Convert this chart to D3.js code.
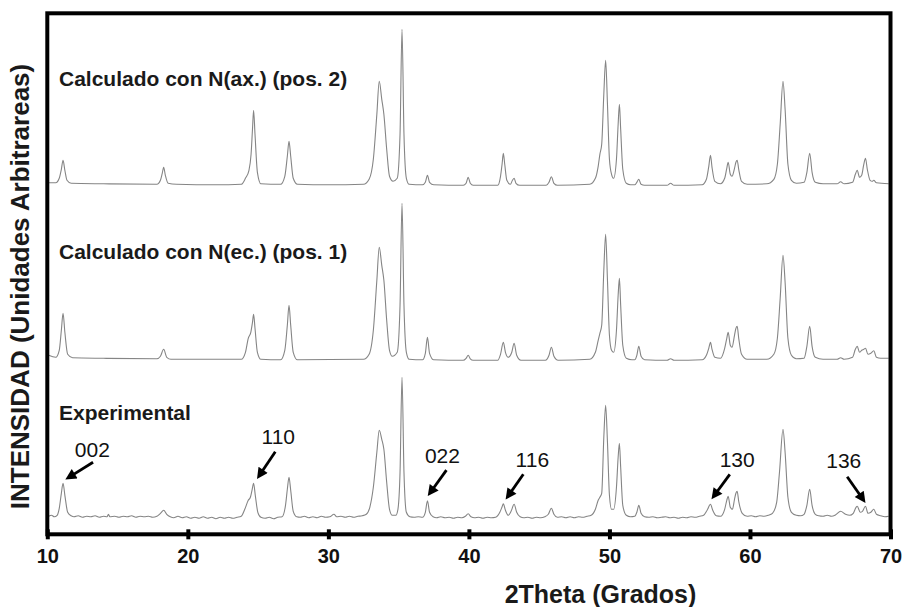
<!DOCTYPE html>
<html>
<head>
<meta charset="utf-8">
<script src="https://cdn.jsdelivr.net/npm/d3@7"></script>
<style>
body { margin: 0; background: #fff; }
text { font-family: "Liberation Sans", Arial, Helvetica, sans-serif; }
</style>
</head>
<body>
<div id="chart"></div>
<script>
// ---- data ----
var xTicks = [10, 20, 30, 40, 50, 60, 70];
var seriesNames = ["Experimental", "Calculado con N(ec.) (pos. 1)", "Calculado con N(ax.) (pos. 2)"];
// vertical offset of each pattern (intensity units)
var seriesOffsets = [17, 174, 350];

// [2theta, intensity above the pattern baseline]
var expData = [
  [10.1, 1], [10.3, 2], [10.5, 0.5], [10.7, 2], [10.85, 9], [11.0, 24], [11.12, 34], [11.25, 22], [11.45, 5], [11.7, 1.5],
  [11.9, 0.5], [12.2, 1.5], [12.5, 0], [12.8, 1], [13.1, 0.5], [13.4, 1.5], [13.7, 0], [14.0, 1], [14.25, 0.5], [14.35, 3],
  [14.45, 0.5], [14.8, 1], [15.1, 0], [15.4, 1], [15.7, 0.5], [16.0, 1.5], [16.3, 0], [16.6, 1], [16.9, 0.5], [17.2, 1],
  [17.5, 0], [17.8, 1], [18.05, 4], [18.28, 7], [18.5, 3], [18.75, 0.5], [19.0, -0.5], [19.3, 1], [19.6, -0.5], [19.9, 0.5],
  [20.2, -1], [20.5, 0], [20.8, -1], [21.1, 0.5], [21.4, -1], [21.7, 0], [22.0, -1.5], [22.3, 0], [22.6, -1], [22.9, 0],
  [23.2, -1], [23.5, 0], [23.8, 1], [24.05, 8], [24.3, 17], [24.45, 20], [24.58, 28], [24.68, 34], [24.8, 22], [24.98, 5],
  [25.2, 0], [25.5, -1], [25.8, 0], [26.1, -1.5], [26.4, 0], [26.7, 0.5], [26.95, 12], [27.08, 28], [27.2, 40], [27.32, 27],
  [27.5, 6], [27.75, 0.5], [28.0, 0], [28.3, 1], [28.6, -0.5], [28.9, 0.5], [29.2, -0.5], [29.5, 1], [29.8, 0], [30.1, 0.5],
  [30.4, 3], [30.6, 0.5], [30.9, 1], [31.2, 0], [31.5, 1], [31.8, 0], [32.1, 1], [32.4, 1.5], [32.7, 3], [32.95, 10],
  [33.2, 30], [33.45, 65], [33.62, 87], [33.8, 78], [33.95, 68], [34.15, 35], [34.35, 8], [34.55, 2], [34.8, 2], [34.95, 8],
  [35.1, 45], [35.24, 140], [35.38, 45], [35.55, 5], [35.8, 0.5], [36.1, 0], [36.4, 0.5], [36.7, 0], [36.9, 5], [37.05, 16.5],
  [37.2, 5], [37.45, 0.5], [37.7, -0.5], [38.0, 0.5], [38.3, -0.5], [38.6, 0], [38.9, -1], [39.2, 0], [39.5, -0.5], [39.75, 1],
  [39.95, 3.5], [40.15, 0.5], [40.4, -0.5], [40.7, 0], [41.0, -1], [41.3, 0], [41.6, -0.5], [41.9, 0], [42.2, 5], [42.35, 10],
  [42.45, 13.5], [42.6, 7], [42.8, 2], [43.0, 6], [43.22, 13], [43.4, 5], [43.65, 0.5], [43.9, -0.5], [44.2, 0], [44.5, -1],
  [44.8, 0], [45.1, -0.5], [45.4, 0.5], [45.65, 3], [45.87, 9], [46.05, 3], [46.3, 0], [46.6, 0.5], [46.9, -0.5], [47.2, 0.5],
  [47.5, -0.5], [47.8, 0.5], [48.1, 0], [48.4, 1], [48.7, 2], [49.0, 8], [49.2, 17], [49.32, 20], [49.45, 24], [49.6, 80],
  [49.73, 112], [49.86, 75], [50.0, 22], [50.15, 8], [50.3, 8], [50.5, 30], [50.62, 60], [50.71, 74], [50.8, 50], [50.95, 12],
  [51.2, 2], [51.5, 0.5], [51.8, 1], [51.95, 5], [52.09, 12], [52.25, 4], [52.5, 0.5], [52.8, 0], [53.1, 0.5], [53.4, -0.5],
  [53.7, 0], [54.0, 0.5], [54.3, -0.5], [54.6, 0], [54.9, -1], [55.2, 0], [55.5, -0.5], [55.8, 0.5], [56.1, 0], [56.4, 1],
  [56.7, 2], [56.95, 7], [57.19, 13], [57.35, 7], [57.6, 1.5], [57.9, 1], [58.2, 8], [58.35, 17], [58.45, 21], [58.6, 10],
  [58.75, 8], [58.9, 18], [59.0, 24], [59.09, 26], [59.2, 16], [59.45, 4], [59.8, 1], [60.1, 1.5], [60.4, 0.5], [60.7, 1.5],
  [61.0, 1], [61.3, 2], [61.6, 4], [61.9, 15], [62.1, 45], [62.35, 88], [62.5, 65], [62.7, 20], [62.95, 5], [63.3, 2],
  [63.6, 1.5], [63.85, 3], [64.05, 12], [64.25, 28], [64.42, 12], [64.65, 3], [64.9, 1.5], [65.2, 1], [65.5, 2], [65.8, 1],
  [66.1, 2.5], [66.45, 6], [66.8, 3], [67.1, 2], [67.35, 4], [67.55, 10], [67.63, 11], [67.85, 5], [68.0, 6], [68.22, 11],
  [68.4, 4], [68.6, 5], [68.81, 8], [69.0, 3], [69.3, 1.5], [69.6, 0.5], [69.87, 1]
];

var ecData = [
  [10.1, 5], [10.6, 3], [10.85, 10], [11.0, 30], [11.12, 47], [11.25, 28], [11.45, 6], [11.8, 2.5],
  [14.0, 2], [17.8, 1.5], [18.05, 4], [18.28, 11], [18.5, 3], [18.8, 1],
  [23.8, 1], [24.1, 8], [24.3, 22], [24.48, 28], [24.6, 38], [24.68, 46], [24.78, 32], [24.95, 8], [25.2, 1],
  [26.6, 0.5], [26.9, 10], [27.08, 35], [27.2, 55], [27.32, 35], [27.5, 8], [27.8, 0.5],
  [32.5, 1], [32.9, 6], [33.2, 30], [33.45, 80], [33.62, 113], [33.8, 95], [33.95, 80], [34.15, 40], [34.35, 10], [34.55, 4],
  [34.9, 8], [35.1, 55], [35.24, 157], [35.38, 55], [35.55, 8], [35.75, 1],
  [36.7, 0.5], [36.9, 7], [37.05, 23], [37.2, 7], [37.5, 0.5],
  [39.6, 0], [39.8, 2], [39.95, 5], [40.1, 1.5], [40.3, 0],
  [42.05, 0], [42.25, 6], [42.45, 18], [42.6, 8], [42.8, 3], [43.05, 8], [43.22, 17], [43.4, 5], [43.7, 0],
  [45.45, 0], [45.7, 5], [45.87, 13], [46.05, 4], [46.35, 0],
  [48.6, 1], [49.0, 8], [49.2, 20], [49.32, 27], [49.45, 35], [49.6, 90], [49.73, 126], [49.86, 80], [50.0, 25], [50.15, 10],
  [50.3, 8], [50.5, 30], [50.62, 65], [50.71, 82], [50.8, 55], [50.95, 15], [51.2, 2], [51.6, 0.5],
  [51.8, 0.5], [51.95, 5], [52.09, 14], [52.25, 4], [52.5, 0.5], [54.1, 0], [54.35, 1.5], [54.6, 0],
  [56.6, 0.5], [56.9, 5], [57.07, 12], [57.19, 18], [57.3, 11], [57.5, 3], [57.9, 2], [58.2, 12], [58.35, 22], [58.45, 28],
  [58.6, 15], [58.72, 13], [58.9, 25], [59.0, 32], [59.09, 34], [59.2, 22], [59.4, 6], [59.8, 1],
  [61.2, 1], [61.7, 6], [61.95, 22], [62.15, 62], [62.35, 105], [62.5, 78], [62.7, 22], [62.95, 5], [63.3, 1.5],
  [63.85, 2], [64.05, 14], [64.25, 34], [64.42, 14], [64.65, 3], [65.2, 1],
  [66.2, 1], [66.45, 2.5], [66.7, 1], [67.3, 3], [67.5, 11], [67.63, 14], [67.8, 8], [67.95, 10], [68.1, 11], [68.22, 12],
  [68.4, 6], [68.6, 7], [68.81, 9.5], [69.0, 3], [69.3, 2], [69.87, 2]
];

var axData = [
  [10.1, 1.5], [10.6, 1.5], [10.85, 6], [11.0, 15], [11.12, 24], [11.25, 14], [11.4, 4], [11.7, 1],
  [14.0, 0.5], [17.8, 0], [18.05, 4], [18.18, 11], [18.28, 17], [18.4, 9], [18.6, 1], [19.2, 0],
  [22.0, -0.5], [23.8, 0], [24.1, 6], [24.35, 14], [24.5, 30], [24.6, 55], [24.68, 74], [24.78, 50], [24.95, 12], [25.2, 0.5],
  [26.6, 0], [26.9, 8], [27.08, 28], [27.2, 43], [27.32, 28], [27.5, 6], [27.8, 0],
  [30.0, -0.5], [32.5, 0], [32.9, 5], [33.2, 25], [33.45, 70], [33.62, 103], [33.8, 85], [33.95, 70], [34.15, 35], [34.35, 8],
  [34.6, 3], [34.9, 6], [35.1, 50], [35.24, 155], [35.38, 50], [35.55, 6], [35.75, 0],
  [36.7, -0.5], [36.9, 2], [37.05, 9], [37.2, 2], [37.5, -0.5],
  [39.6, -1], [39.8, 1], [39.95, 7], [40.1, 1], [40.3, -1],
  [42.05, -1], [42.25, 8], [42.36, 20], [42.45, 31], [42.55, 20], [42.7, 4], [42.95, 0], [43.1, 4], [43.22, 6], [43.35, 1], [43.6, -1],
  [45.5, -1], [45.7, 2], [45.87, 7.5], [46.05, 1], [46.3, -1],
  [48.6, 0], [49.0, 6], [49.2, 18], [49.32, 30], [49.45, 40], [49.6, 90], [49.73, 124], [49.86, 80], [50.0, 25], [50.15, 10],
  [50.3, 6], [50.5, 25], [50.62, 60], [50.71, 80], [50.8, 55], [50.95, 15], [51.2, 1], [51.5, -0.5],
  [51.8, -0.5], [51.95, 2], [52.09, 5], [52.25, 0], [52.5, -1], [54.1, -1], [54.35, 1], [54.6, -1],
  [56.6, -0.5], [56.9, 5], [57.07, 18], [57.19, 29], [57.3, 17], [57.5, 3], [57.9, 0.5], [58.2, 6], [58.35, 16], [58.45, 22],
  [58.6, 10], [58.72, 8], [58.9, 16], [59.0, 22], [59.09, 24], [59.2, 15], [59.4, 3], [59.8, 0],
  [61.2, 0.5], [61.7, 5], [61.95, 20], [62.15, 60], [62.35, 103], [62.5, 75], [62.7, 20], [62.95, 4], [63.3, 1],
  [63.85, 2], [64.05, 12], [64.25, 31], [64.42, 12], [64.65, 2], [65.2, 0.5],
  [66.2, 0.5], [66.45, 2.5], [66.7, 0.5], [67.3, 2], [67.5, 10], [67.63, 14], [67.8, 7], [67.95, 9], [68.1, 20], [68.22, 26],
  [68.35, 15], [68.55, 4], [68.7, 3], [68.81, 4], [69.0, 1.5], [69.87, 0.5]
];

var peakLabels = ["002", "110", "022", "116", "130", "136"];
var peakPositions = [11.12, 24.68, 37.05, 42.45, 57.19, 68.22];

// ---- layout ----
var width = 904, height = 607;
var plot = {left: 47.3, right: 890.5, top: 13.3, bottom: 534.3};
// label baselines for the three patterns (px)
var labelY = [420, 259, 86];
// arrow offsets from the marked peak top: tip, start, text (px)
var arrowLayout = [
  {tip: [2.3, -3.7], start: [30, -21], text: [29.3, -26.7]},
  {tip: [3.4, -4.3], start: [21.7, -31.6], text: [24.7, -39.5]},
  {tip: [0.3, -4.7], start: [19, -30.7], text: [15, -37.7]},
  {tip: [2.3, -4.2], start: [20, -29.5], text: [29, -36.8]},
  {tip: [1, -5], start: [19.3, -30], text: [26.7, -37.3]},
  {tip: [0, -3.3], start: [-18.3, -29.6], text: [-21.7, -38.6]}
];

var svg = d3.select('#chart').append('svg')
  .attr('width', width).attr('height', height);

var x = d3.scaleLinear().domain([10, 70]).range([plot.left, plot.right]);
var y = d3.scaleLinear().domain([0, plot.bottom - plot.top]).range([plot.bottom, plot.top]);

var line = d3.line().curve(d3.curveMonotoneX);

var allSeries = [expData, ecData, axData];
allSeries.forEach(function(data, i) {
  var off = seriesOffsets[i];
  line.x(function(d) { return x(d[0]); }).y(function(d) { return y(d[1] + off); });
  svg.append('path')
    .datum(data)
    .attr('d', line)
    .attr('fill', 'none')
    .attr('stroke', '#858585')
    .attr('stroke-width', 1.1);
});

// pattern labels
svg.selectAll('.series-label').data(seriesNames).enter()
  .append('text')
  .attr('class', 'series-label')
  .attr('x', 59)
  .attr('y', function(d, i) { return labelY[i]; })
  .attr('font-size', 21)
  .attr('font-weight', 'bold')
  .attr('fill', '#1a1a1a')
  .text(function(d) { return d; });

// arrows on the experimental pattern
svg.append('defs').append('marker')
  .attr('id', 'head')
  .attr('viewBox', '0 0 10 10')
  .attr('refX', 10).attr('refY', 5)
  .attr('markerWidth', 13).attr('markerHeight', 11)
  .attr('markerUnits', 'userSpaceOnUse')
  .attr('orient', 'auto')
  .append('path').attr('d', 'M0,0L10,5L0,10Z').attr('fill', '#000');

peakLabels.forEach(function(lab, i) {
  var pos = peakPositions[i];
  var pt = d3.least(expData, function(d) { return Math.abs(d[0] - pos); });
  var px = x(pt[0]), py = y(pt[1] + seriesOffsets[0]);
  var L = arrowLayout[i];
  var tx = px + L.tip[0], ty = py + L.tip[1];
  var sx = px + L.start[0], sy = py + L.start[1];
  // stop the shaft a little short so it does not poke through the head
  var len = Math.hypot(tx - sx, ty - sy);
  var ex = tx - (tx - sx) / len * 6, ey = ty - (ty - sy) / len * 6;
  svg.append('line')
    .attr('x1', sx).attr('y1', sy)
    .attr('x2', ex).attr('y2', ey)
    .attr('stroke', '#000').attr('stroke-width', 2.8);
  svg.append('line')
    .attr('x1', ex).attr('y1', ey)
    .attr('x2', tx).attr('y2', ty)
    .attr('stroke', 'none')
    .attr('marker-end', 'url(#head)');
  svg.append('text')
    .attr('x', px + L.text[0]).attr('y', py + L.text[1])
    .attr('text-anchor', 'middle')
    .attr('font-size', 21)
    .attr('fill', '#111')
    .text(lab);
});

// x axis
var xAxis = d3.axisBottom(x).tickValues(xTicks).tickSize(10).tickFormat(d3.format('d'));
var gx = svg.append('g').attr('transform', 'translate(0,' + plot.bottom + ')').call(xAxis);
gx.select('.domain').remove();
gx.selectAll('.tick line').attr('y1', -5).attr('y2', 5).attr('stroke', '#000').attr('stroke-width', 4);
gx.selectAll('.tick text')
  .attr('y', 29).attr('dy', 0)
  .attr('font-size', 20).attr('font-weight', 'bold')
  .attr('font-family', '"Liberation Sans", Arial, sans-serif')
  .attr('fill', '#111');

// frame
svg.append('rect')
  .attr('x', plot.left).attr('y', plot.top)
  .attr('width', plot.right - plot.left).attr('height', plot.bottom - plot.top)
  .attr('fill', 'none').attr('stroke', '#000').attr('stroke-width', 4);

// axis titles
svg.append('text')
  .attr('x', 600.5).attr('y', 603)
  .attr('text-anchor', 'middle')
  .attr('font-size', 25).attr('font-weight', 'bold')
  .attr('fill', '#1a1a1a')
  .text('2Theta (Grados)');

svg.append('text')
  .attr('transform', 'translate(29,286.5) rotate(-90)')
  .attr('text-anchor', 'middle')
  .attr('font-size', 26).attr('font-weight', 'bold')
  .attr('fill', '#1a1a1a')
  .text('INTENSIDAD (Unidades Arbitrareas)');
</script>
</body>
</html>
